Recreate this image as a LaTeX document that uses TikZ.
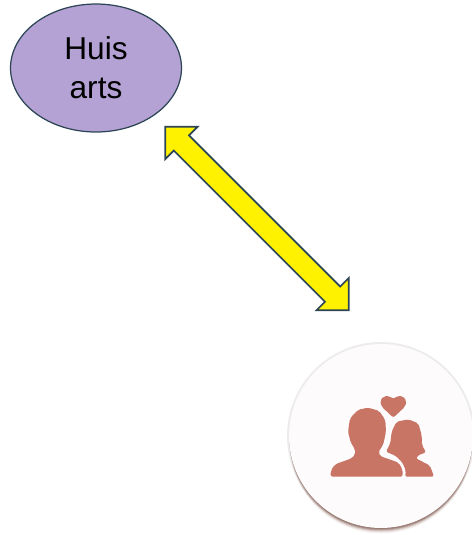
\documentclass[tikz,border=0pt]{standalone}
\usepackage{fontspec}
\usepackage{xcolor}
\usepackage{tikz}
\usetikzlibrary{shapes.geometric,shapes.arrows}
\setmainfont{Liberation Sans}

\definecolor{randblauw}{HTML}{2C4454}
\definecolor{huispaars}{HTML}{B3A2D3}
\definecolor{iconrood}{HTML}{C87566}
\definecolor{schaduw}{HTML}{7A4A3E}
\definecolor{paarwit}{HTML}{FDFBFC}

\tikzset{
    huisstijl/.style={ellipse, draw=randblauw, fill=huispaars, line width=0.7pt,
        minimum width=3.42cm, minimum height=2.56cm, inner sep=0pt, align=center,
        font=\fontsize{18pt}{22pt}\selectfont},
    pijlstijl/.style={double arrow, draw=randblauw, fill=yellow, line width=1pt,
        minimum height=5.19cm, minimum width=0.876cm, double arrow head extend=0.24cm,
        inner xsep=0pt, inner ysep=0.198cm},
    paarstijl/.style={circle, fill=paarwit, minimum size=3.68cm, inner sep=0pt},
    iconstijl/.style={fill=iconrood, rounded corners=1.2pt},
}

\begin{document}
\begin{tikzpicture}[x=0.02cm, y=-0.02cm]
    \useasboundingbox (0,0) rectangle (472,535);

    \foreach \d/\o in {6/0.06, 5/0.1, 4/0.16, 3/0.26, 2/0.36, 1/0.45} {
        \fill[schaduw, opacity=\o] (381,436+\d) circle[radius=91.5];
    }
    \fill[gray, opacity=0.15] (381,436) circle[radius=94];

    \node[huisstijl] (huis) at (96,68) {Huis\\arts};
    \node[paarstijl] (paar) at (381,436) {};
    \node[pijlstijl, rotate=-45] (pijl) at (257,218.5) {};

    \begin{scope}[shift={(280,335)}, x=0.00667cm, y=-0.00667cm]
        \fill[iconstijl] (152,425) -- (152,408) -- (165,388) -- (215,370) -- (226,358) -- (225,343)
            -- (212,322) -- (204,290) -- (210,250) -- (235,224) -- (265,218) -- (298,228) -- (316,255)
            -- (318,290) -- (310,328) -- (295,352) -- (300,363) -- (356,383) -- (368,405) -- (368,425) -- cycle;
        \fill[iconstijl] (375,425) -- (378,408) -- (367,382) -- (348,363) -- (318,350) -- (331,325)
            -- (335,290) -- (350,260) -- (385,253) -- (415,265) -- (425,300) -- (426,330) -- (438,352)
            -- (412,362) -- (408,370) -- (450,392) -- (462,425) -- cycle;
        \fill[iconstijl] (340,248) -- (305,215) -- (300,198) -- (312,183) -- (328,183) -- (340,192)
            -- (352,183) -- (368,183) -- (380,198) -- (375,215) -- cycle;
    \end{scope}
\end{tikzpicture}
\end{document}
